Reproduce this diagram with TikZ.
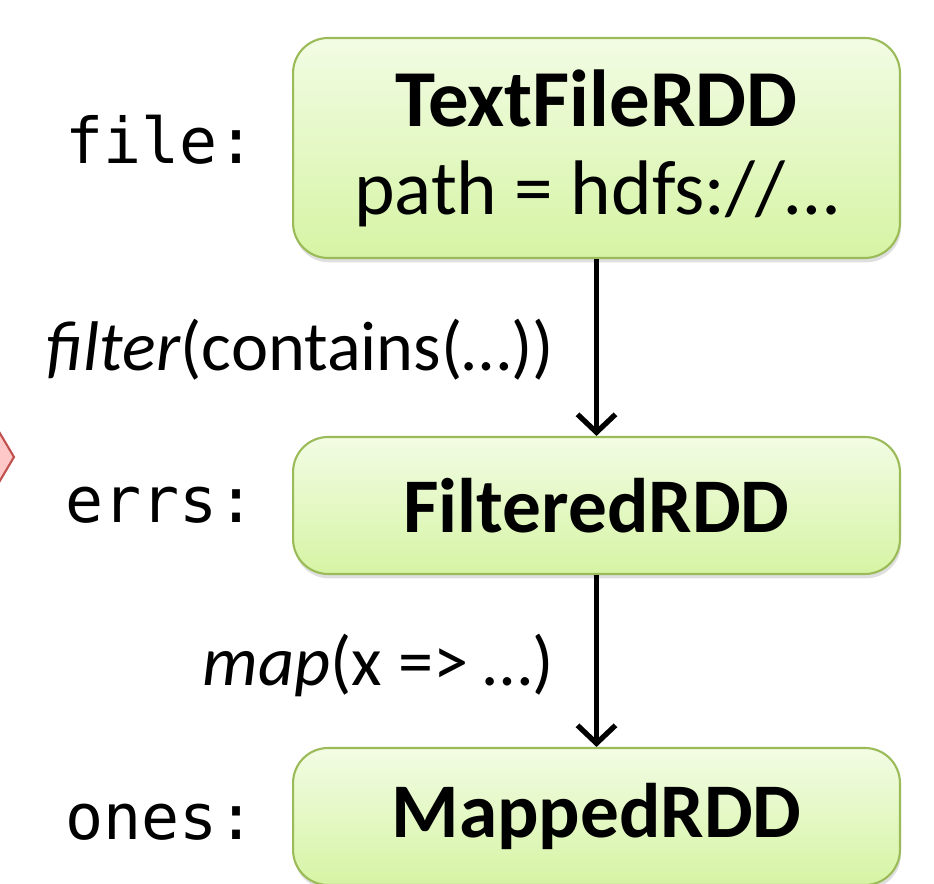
\documentclass[tikz,border=0pt]{standalone}
\usepackage{fontspec}
\setmainfont{Carlito}
\setmonofont{DejaVu Sans Mono}
\usetikzlibrary{arrows.meta,shadows}
\definecolor{boxtop}{HTML}{F2FCE4}
\definecolor{boxbot}{HTML}{D6F4A4}
\definecolor{boxline}{HTML}{9BBB59}
\definecolor{chevfill}{HTML}{FFC8C8}
\definecolor{chevline}{HTML}{C0504D}
\tikzset{
    rddbox/.style = {draw=boxline, line width=1.2pt, rounded corners=0.7cm,
        top color=boxtop, bottom color=boxbot, minimum width=12.14cm,
        drop shadow={shadow xshift=0.6pt, shadow yshift=-2.5pt, opacity=0.25},
        align=center, font=\fontsize{44}{52}\selectfont},
    varname/.style = {anchor=east, font=\ttfamily\fontsize{36}{40}\selectfont},
    oplabel/.style = {anchor=east, font=\fontsize{40}{46}\selectfont},
    flowarrow/.style = {line width=3pt, -{Straight Barb[length=3.6mm,width=7.6mm,line width=3pt]}}
}
\begin{document}
\begin{tikzpicture}[x=0.02cm, y=-0.02cm]
    \useasboundingbox (0,0) rectangle (934,884);
    \begin{scope}
        \clip (0,0) rectangle (934,884);
        % chevron cut by the left edge
        \filldraw [fill=chevfill, draw=chevline, line width=1.2pt] (-30,430) -- (-2,430) -- (14,457) -- (-2,484) -- (-30,484) -- cycle;
        % the three RDDs
        \node[rddbox, minimum height=4.4cm] (file) at (596.5,148) {{\fontsize{46}{52}\selectfont\textbf{TextFileRDD}}\\[-2pt] path = hdfs://…};
        \node[rddbox, minimum height=2.74cm] (errs) at (596.5,505.5) {\textbf{FilteredRDD}};
        \node[rddbox, minimum height=2.74cm] (ones) at (596.5,816.5) {\textbf{MappedRDD}};
        \draw[flowarrow] (file) -- (errs);
        \draw[flowarrow] (errs) -- (ones);
        % variable names
        \node[varname] (fileName) at (262,140) {file:};
        \node[varname] (errsName) at (262,505) {errs:};
        \node[varname] (onesName) at (262,822) {ones:};
        % transformations
        \node[oplabel] (filterOp) at (560,350) {\textit{filter}(contains(…))};
        \node[oplabel] (mapOp) at (560,665) {\textit{map}(x => …)};
    \end{scope}
\end{tikzpicture}
\end{document}
